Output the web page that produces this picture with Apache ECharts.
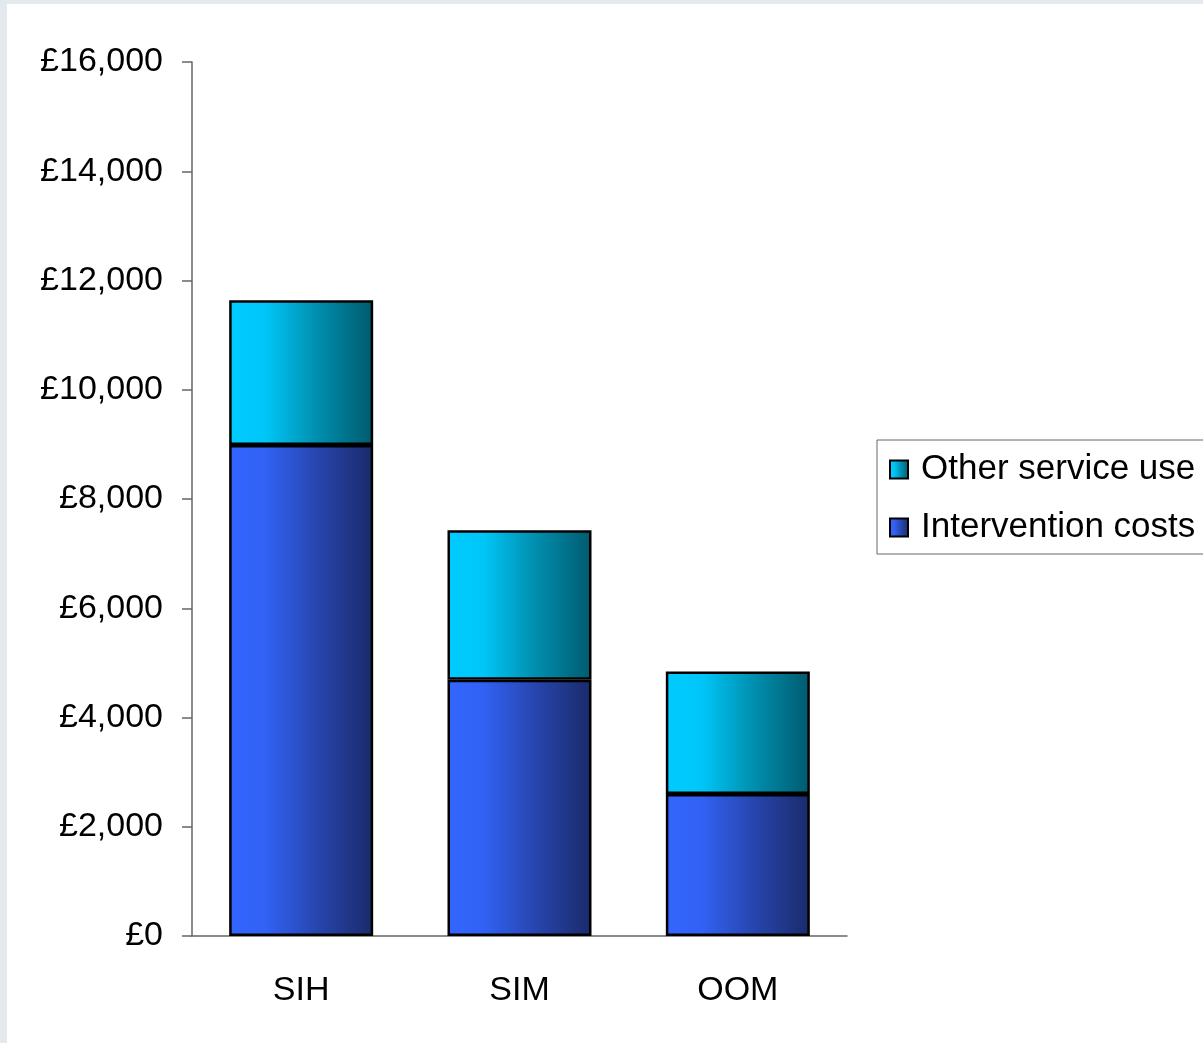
<!DOCTYPE html>
<html>
<head>
<meta charset="utf-8">
<script src="https://cdn.jsdelivr.net/npm/echarts@6/dist/echarts.min.js"></script>
<style>
html,body{margin:0;padding:0;background:#e4e9ed;}
#chart{width:1203px;height:1043px;}
</style>
</head>
<body>
<div id="chart"></div>
<script>
var categories = ['SIH', 'SIM', 'OOM'];
var interventionCosts = [8990, 4690, 2600];
var otherServiceUse = [2650, 2740, 2240];
var seriesNames = ['Other service use', 'Intervention costs'];
var yMax = 16000;
var yStep = 2000;

function money(v) {
  var s = String(Math.round(v));
  return '£' + s.replace(/\B(?=(\d{3})+(?!\d))/g, ',');
}

var font = "'Liberation Sans', Arial, sans-serif";
var chart = echarts.init(document.getElementById('chart'), null, {renderer: 'canvas'});

var blueGrad = new echarts.graphic.LinearGradient(0, 0, 1, 0, [
  {offset: 0, color: '#3366FF'},
  {offset: 0.25, color: '#3162F4'},
  {offset: 0.6, color: '#2846B0'},
  {offset: 1, color: '#1A2A6A'}
]);
var cyanGrad = new echarts.graphic.LinearGradient(0, 0, 1, 0, [
  {offset: 0, color: '#00CCFF'},
  {offset: 0.25, color: '#00C6F8'},
  {offset: 0.6, color: '#0090B0'},
  {offset: 1, color: '#005A6E'}
]);

chart.setOption({
  backgroundColor: '#e4e9ed',
  animation: false,
  graphic: [{
    type: 'rect', z: -10, silent: true,
    shape: {x: 7, y: 4, width: 1196, height: 1039},
    style: {fill: '#ffffff'}
  }],
  grid: {left: 192, top: 62, width: 655, height: 874},
  legend: {
    orient: 'vertical',
    left: 877, top: 440,
    padding: [12, 12, 9, 12],
    itemWidth: 18, itemHeight: 18,
    itemGap: 23,
    icon: 'rect',
    borderColor: '#666666', borderWidth: 1,
    data: seriesNames,
    textStyle: {fontFamily: font, fontSize: 35, color: '#000', lineHeight: 35, padding: [0, 0, 0, 8]}
  },
  xAxis: {
    type: 'category',
    data: categories,
    axisLine: {lineStyle: {color: '#666666', width: 1.5}},
    axisTick: {length: 10, lineStyle: {color: '#666666', width: 1.5}},
    axisLabel: {fontFamily: font, fontSize: 34, color: '#000', margin: 38}
  },
  yAxis: {
    type: 'value',
    min: 0, max: yMax, interval: yStep,
    splitLine: {show: false},
    axisLine: {show: true, lineStyle: {color: '#666666', width: 1.5}},
    axisTick: {show: true, length: 10, lineStyle: {color: '#666666', width: 1.5}},
    axisLabel: {fontFamily: font, fontSize: 34, color: '#000', margin: 29, padding: [4, 0, 0, 0], formatter: money}
  },
  series: [
    {
      name: 'Intervention costs', type: 'bar', stack: 'total',
      data: interventionCosts, barWidth: 144,
      itemStyle: {color: blueGrad, borderColor: '#000', borderWidth: 2.5}
    },
    {
      name: 'Other service use', type: 'bar', stack: 'total',
      data: otherServiceUse, barWidth: 144,
      itemStyle: {color: cyanGrad, borderColor: '#000', borderWidth: 2.5}
    }
  ]
});
</script>
</body>
</html>
